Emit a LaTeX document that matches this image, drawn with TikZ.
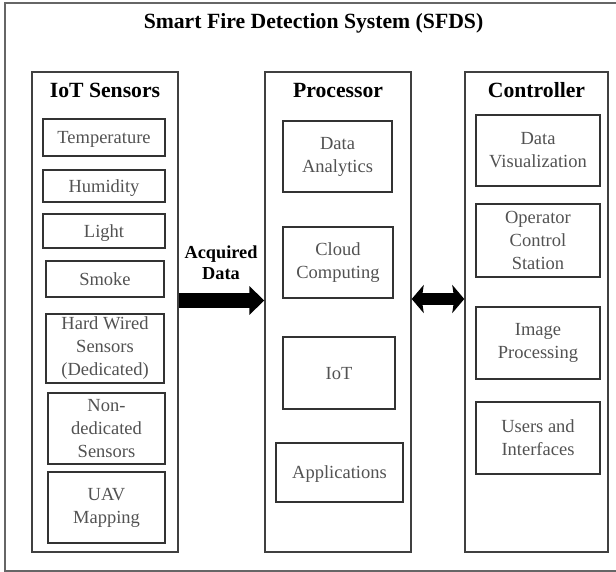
\documentclass[tikz,border=0pt]{standalone}
\usepackage{fontspec}
\setmainfont{Liberation Serif}
\usetikzlibrary{arrows.meta}
\begin{document}
\begin{tikzpicture}[x=1pt,y=-1pt,
  outerframe/.style={draw=black!60, line width=1.5pt},
  column/.style={draw=black!75, line width=1.4pt, minimum width=#1, minimum height=480pt, inner sep=0pt},
  coltitle/.style={anchor=base, font=\fontsize{21.7}{26}\selectfont\bfseries, inner sep=0pt},
  item/.style={draw=black!80, line width=1.3pt, text=black!68, align=center, inner sep=0pt,
    font=\fontsize{18.5}{23}\selectfont},
  oneline/.style={text height=12.6pt, text depth=0pt},
  lbl/.style={align=center, inner sep=0pt, font=\fontsize{18.3}{21}\selectfont\bfseries},
  flowarrow/.style={line width=15pt, -{Triangle[length=15pt,width=28pt]}},
  linkarrow/.style={line width=12pt, {Stealth[length=12pt,width=28pt,inset=2pt]}-{Stealth[length=12pt,width=28pt,inset=2pt]}}]
\useasboundingbox (0,0) rectangle (616,572);

% outer frame (runs past the right edge of the page)
\draw[outerframe] (5,3) rectangle (624,571);
\node[coltitle] (title) at (313.5,28.5) {Smart Fire Detection System (SFDS)};

% the three columns
\node[column=146pt] (sensors) at (105,312) {};
\node[column=146pt] (proc) at (338,312) {};
\node[column=143pt] (ctrl) at (536.5,312) {};

\node[coltitle] (sensorsT) at (105,98) {IoT Sensors};
\node[coltitle] (procT) at (338,98) {Processor};
\node[coltitle] (ctrlT) at (536.5,98) {Controller};

% sensors
\node[item, oneline, minimum width=122pt, minimum height=37pt] (temp) at (104,137.5) {Temperature};
\node[item, oneline, minimum width=122pt, minimum height=32pt] (hum) at (104,186) {Humidity};
\node[item, oneline, minimum width=122pt, minimum height=34pt] (light) at (104,231) {Light};
\node[item, oneline, minimum width=118pt, minimum height=36pt] (smoke) at (105,279) {Smoke};
\node[item, minimum width=118pt, minimum height=69pt] (hard) at (105,348.5) {Hard Wired\\Sensors\\(Dedicated)};
\node[item, minimum width=117pt, minimum height=71pt] (nonded) at (106.5,428.5) {Non-\\dedicated\\Sensors};
\node[item, minimum width=117pt, minimum height=71pt] (uav) at (106.5,507.5) {UAV\\Mapping};

% processor
\node[item, minimum width=109pt, minimum height=71pt] (da) at (337.5,156.5) {Data\\Analytics};
\node[item, minimum width=110pt, minimum height=71pt] (cc) at (338,262.5) {Cloud\\Computing};
\node[item, oneline, minimum width=112pt, minimum height=72pt] (iot) at (339,373) {IoT};
\node[item, oneline, minimum width=127pt, minimum height=59pt] (app) at (339.5,472.5) {Applications};

% controller
\node[item, minimum width=124pt, minimum height=71pt] (dv) at (538,150.5) {Data\\Visualization};
\node[item, minimum width=124pt, minimum height=73pt] (ocs) at (538,240.5) {Operator\\Control\\Station};
\node[item, minimum width=124pt, minimum height=72pt] (ip) at (538,343) {Image\\Processing};
\node[item, minimum width=124pt, minimum height=72pt] (ui) at (538,438) {Users and\\Interfaces};

% connectors
\node[lbl] (acq) at (221,262.5) {Acquired\\Data};
\coordinate (ay) at (0,300.5);
\coordinate (by) at (0,299);
\draw[flowarrow] (sensors.east |- ay) -- (proc.west |- ay);
\draw[linkarrow] (proc.east |- by) -- (ctrl.west |- by);
\end{tikzpicture}
\end{document}
